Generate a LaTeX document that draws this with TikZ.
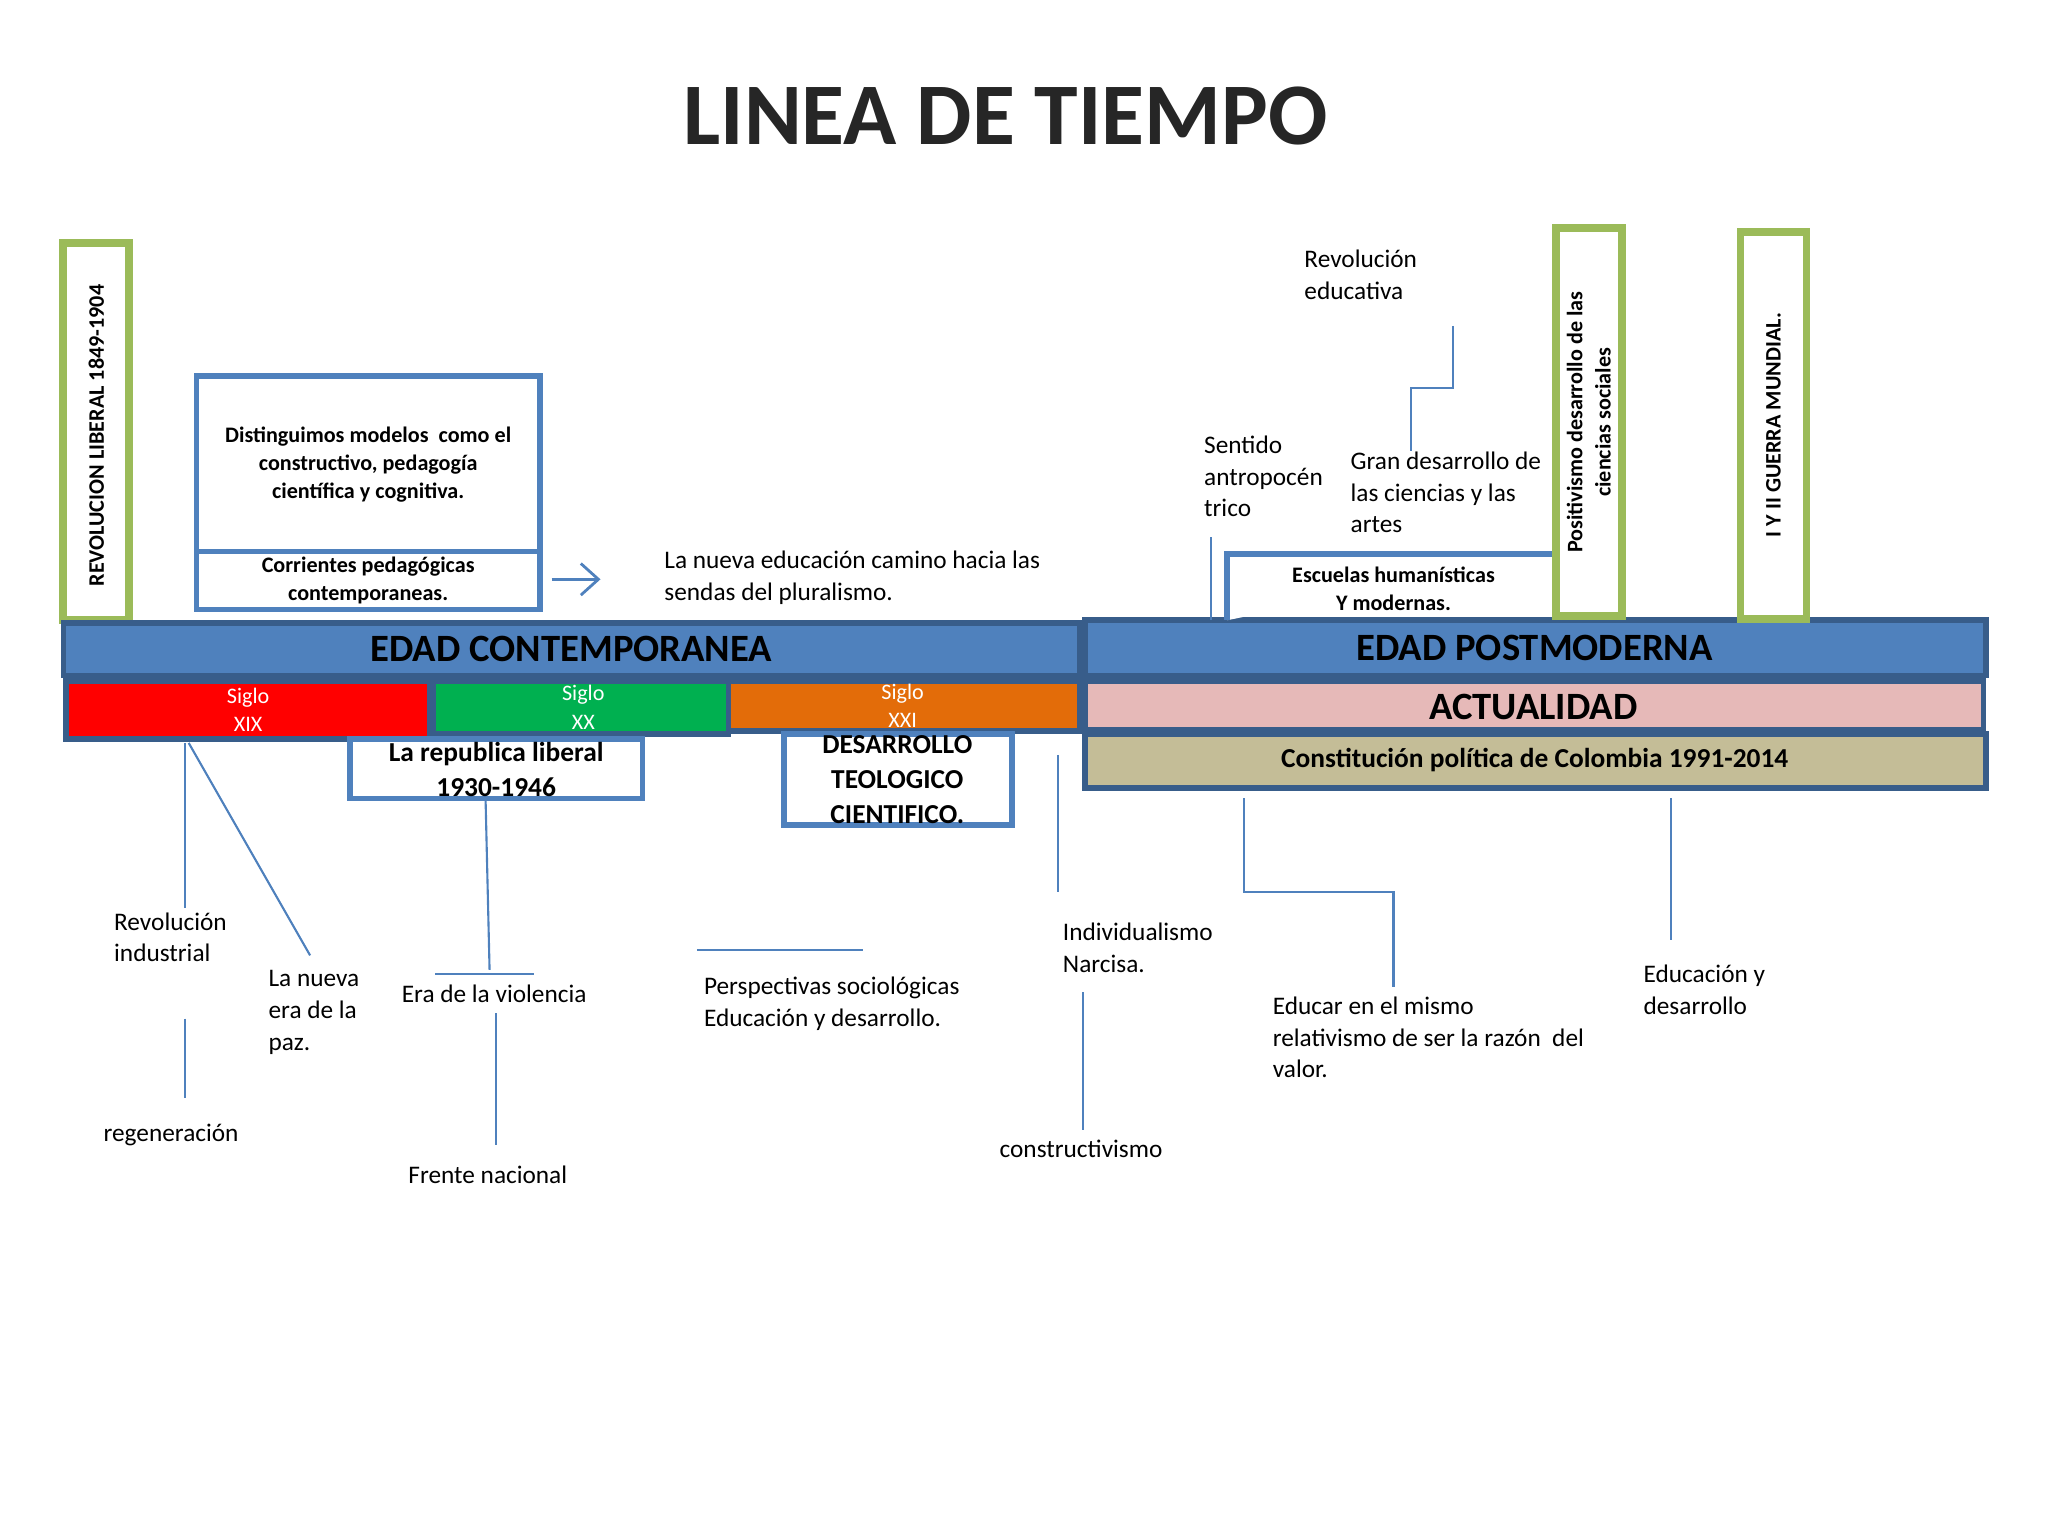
\documentclass[tikz,border=0pt]{standalone}
\usepackage{fontspec}
\setmainfont{Carlito}
\usetikzlibrary{positioning, arrows.meta}

\definecolor{barblue}{HTML}{4F81BD}
\definecolor{barline}{HTML}{385D8A}
\definecolor{boxgreen}{HTML}{9BBB59}
\definecolor{sigloxx}{HTML}{00B050}
\definecolor{sigloxxi}{HTML}{E36C09}
\definecolor{actpink}{HTML}{E6B9B8}
\definecolor{constkhaki}{HTML}{C4BD97}

\tikzset{
    bar/.style={draw=barline, line width=1.6pt, fill=#1, inner sep=0pt},
    gbox/.style={draw=boxgreen, line width=2.2pt, fill=white},
    wbox/.style={draw=barblue, line width=1.6pt, fill=white},
    lbl/.style={font=\fontsize{7.2}{9}\selectfont, align=left, anchor=north west, inner sep=0pt},
    lnk/.style={draw=barblue, line width=0.6pt}
}

\begin{document}
\begin{tikzpicture}[x=0.0132cm, y=-0.0132cm]
        \useasboundingbox (0,0) rectangle (1552,1164);
        % title
        \node[font=\fontsize{25}{27}\selectfont\bfseries, text=black!85] (title) at (762,88) {LINEA DE TIEMPO};

        % upper boxes
        \draw[gbox] (48,184) rectangle (98,470);
        \node[rotate=90, font=\fontsize{6.3}{8}\selectfont\bfseries] (revlib) at (73,330) {REVOLUCION LIBERAL 1849-1904};
        \draw[wbox] (149,285) rectangle (409,418);
        \draw[wbox] (149,418) rectangle (409,462);
        \node[align=center, font=\fontsize{6.3}{8}\selectfont\bfseries] (distin) at (279,352) {Distinguimos modelos \ como el\\constructivo, pedagogía\\científica y cognitiva.};
        \node[align=center, font=\fontsize{6.3}{8}\selectfont\bfseries] (corr) at (279,440) {Corrientes pedagógicas\\contemporaneas.};
        \coordinate (arrA) at (418,439);
        \node[lbl] (nueva) at (503,417) {La nueva educación camino hacia las\\sendas del pluralismo.};
        \draw[lnk, -{Straight Barb[length=5pt, width=9pt]}, line width=0.8pt] (arrA) -- ([xshift=-18]nueva.west |- arrA);

        % main bars
        \draw[bar=barblue] (48,472) rectangle (818,512);
        \node[font=\fontsize{11}{12}\selectfont\bfseries] (contemp) at (433,492) {EDAD CONTEMPORANEA};
        \draw[bar=barblue] (822,470) rectangle (1505,512);
        \node[font=\fontsize{11}{12}\selectfont\bfseries] (postmod) at (1163,491) {EDAD POSTMODERNA};
        \draw[bar=red] (50,516) rectangle (326,560);
        \draw[bar=sigloxx] (328,516) rectangle (552,556);
        \draw[bar=sigloxxi] (552,516) rectangle (818,554);
        \node[white, align=center, font=\fontsize{6.3}{8}\selectfont] (s19) at (188,538) {Siglo\\XIX};
        \node[white, align=center, font=\fontsize{6.3}{8}\selectfont] (s20) at (442,536) {Siglo\\XX};
        \node[white, align=center, font=\fontsize{6.3}{8}\selectfont] (s21) at (684,535) {Siglo\\XXI};
        \draw[bar=actpink] (822,516) rectangle (1503,553);
        \node[font=\fontsize{11}{12}\selectfont\bfseries] (actual) at (1162,536) {ACTUALIDAD};
        \draw[bar=constkhaki] (822,556) rectangle (1505,597);
        \node[font=\fontsize{7.8}{9}\selectfont\bfseries] (const) at (1163,576) {Constitución política de Colombia 1991-2014};

        % boxes under bars
        \draw[wbox] (265,560) rectangle (487,605);
        \node[align=center, font=\fontsize{7.8}{10}\selectfont\bfseries] (replib) at (376,583) {La republica liberal\\1930-1946};
        \draw[wbox] (594,556) rectangle (767,625);
        \node[align=center, font=\fontsize{7.8}{10}\selectfont\bfseries] (teol) at (680,591) {DESARROLLO\\TEOLOGICO\\CIENTIFICO.};

        % postmodern upper boxes
        \draw[wbox] (930,470) -- (930,420) -- (1178,420);
        \node[align=center, font=\fontsize{6.3}{8}\selectfont\bfseries] (escuelas) at (1056,446) {Escuelas humanísticas\\Y modernas.};
        \draw[gbox] (1179,173) rectangle (1229,467);
        \node[rotate=90, align=center, font=\fontsize{6.3}{8}\selectfont\bfseries] (posit) at (1204,320) {Positivismo desarrollo de las\\ciencias sociales};
        \draw[gbox] (1319,176) rectangle (1369,469);
        \node[rotate=90, font=\fontsize{6.3}{8}\selectfont\bfseries] (guerra) at (1344,322) {I Y II GUERRA MUNDIAL.};

        % texts
        \node[lbl] (reved) at (988,189) {Revolución\\educativa};
        \node[lbl] (gran) at (1023,342) {Gran desarrollo de\\las ciencias y las\\artes};
        \node[lbl] (sentido) at (912,330) {Sentido\\antropocén\\trico};
        \node[lbl] (revind) at (86,691) {Revolución\\industrial};
        \node[lbl] (paz) at (203,735) {La nueva\\era de la\\paz.};
        \node[lbl] (regen) at (78,851) {regeneración};
        \node[lbl] (violen) at (304,746) {Era de la violencia};
        \node[lbl] (frente) at (309,883) {Frente nacional};
        \node[lbl] (persp) at (533,740) {Perspectivas sociológicas\\ Educación y desarrollo.};
        \node[lbl] (indiv) at (805,699) {Individualismo\\Narcisa.};
        \node[lbl] (constr) at (757,863) {constructivismo};
        \node[lbl] (educar) at (964,755) {Educar en el mismo\\relativismo de ser la razón \ del\\valor.};
        \node[lbl] (eddes) at (1245,731) {Educación y\\desarrollo};

        % connectors
        \coordinate (c1) at (1101,247);
        \coordinate (c2) at (1069,342);
        \draw[lnk] (c1) -- (1101,294) -- (1069,294) -- (c2);
        \draw[lnk] (918,407) -- (918,470);
        \draw[lnk] (140,563) -- (140,688);
        \draw[lnk] (143,563) -- (235,724);
        \draw[lnk] (140,772) -- (140,832);
        \draw[lnk] (368,607) -- (371,735);
        \draw[lnk] (330,738) -- (405,738);
        \draw[lnk] (376,768) -- (376,868);
        \draw[lnk] (528,720) -- (654,720);
        \draw[lnk] (802,572) -- (802,676);
        \draw[lnk] (821,752) -- (821,856);
        \draw[lnk] (943,605) -- (943,676) -- (1056,676) -- (1056,748);
        \draw[lnk] (1266,605) -- (1266,712);
\end{tikzpicture}
\end{document}
